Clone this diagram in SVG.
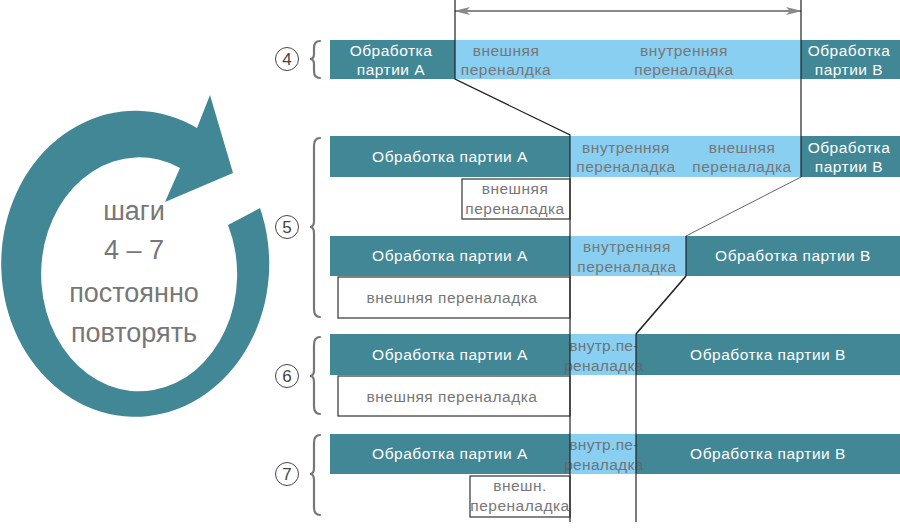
<svg xmlns="http://www.w3.org/2000/svg" width="900" height="531" viewBox="0 0 900 531">
<defs>
<style>
.dk{fill:#428795}
.lt{fill:#88cff2}
.wb{fill:#fff;stroke:#333;stroke-width:1.2}
.tw{font-family:"Liberation Sans",Arial,sans-serif;font-size:15.5px;fill:#fff;text-anchor:middle;letter-spacing:0.5px}
.tg{font-family:"Liberation Sans",Arial,sans-serif;font-size:15.5px;fill:#777;text-anchor:middle;letter-spacing:0.5px}
.tb{font-family:"Liberation Sans",Arial,sans-serif;font-size:15.5px;fill:#666;text-anchor:middle;letter-spacing:0.3px;opacity:0.85}
.big{font-family:"Liberation Sans",Arial,sans-serif;font-size:27px;fill:#777;text-anchor:middle}
.num{font-family:"Liberation Sans",Arial,sans-serif;font-size:17px;fill:#444;text-anchor:middle}
.circ{fill:#fff;stroke:#444;stroke-width:1}
.brace{fill:none;stroke:#777;stroke-width:2.2;stroke-linecap:round}
.ln{stroke:#222;stroke-width:1.2;fill:none}
.lg{stroke:#666;stroke-width:1;fill:none}
</style>
<marker id="ah" viewBox="0 0 16 8" refX="15" refY="4" markerWidth="16" markerHeight="8" markerUnits="userSpaceOnUse" orient="auto-start-reverse">
<path d="M0,0 L16,4 L0,8 L4,4 Z" fill="#888"/>
</marker>
</defs>

<g id="cycle">
<path class="dk" d="M 260 208 A 134 153 0 1 1 197 128 L 210 95 L 233 173 L 165 202 L 180 168 A 98 117 0 1 0 228 225 Z"/>
<text class="big" x="134" y="220">шаги</text>
<text class="big" x="134" y="259">4 – 7</text>
<text class="big" x="134" y="302">постоянно</text>
<text class="big" x="134" y="342">повторять</text>
</g>

<g id="step4">
<circle class="circ" cx="287" cy="59" r="11.5"/>
<text class="num" x="287" y="65">4</text>
<path class="brace" d="M 320 41 Q 314 41 314 48 L 314 54 Q 314 59 310 59 Q 314 59 314 64 L 314 71 Q 314 78 320 78"/>
<rect class="dk" x="330" y="40" width="125" height="39"/>
<rect class="lt" x="455" y="40" width="346" height="39"/>
<rect class="dk" x="801" y="40" width="99" height="39"/>
<text class="tw" x="391" y="56">Обработка</text>
<text class="tw" x="391" y="75">партии  А</text>
<text class="tg" x="506" y="56">внешняя</text>
<text class="tg" x="506" y="75">переналдка</text>
<text class="tg" x="684" y="56">внутренняя</text>
<text class="tg" x="684" y="75">переналадка</text>
<text class="tw" x="849" y="56">Обработка</text>
<text class="tw" x="849" y="75">партии В</text>
</g>

<g id="step5">
<circle class="circ" cx="287" cy="227" r="11.5"/>
<text class="num" x="287" y="233">5</text>
<path class="brace" d="M 320 138 Q 314 138 314 146 L 314 221 Q 314 227 310 227 Q 314 227 314 233 L 314 309 Q 314 317 320 317"/>
<rect class="dk" x="330" y="136" width="240" height="41"/>
<rect class="lt" x="570" y="136" width="231" height="41"/>
<rect class="dk" x="801" y="136" width="99" height="41"/>
<text class="tw" x="450" y="162">Обработка партии  А</text>
<text class="tg" x="626" y="153">внутренняя</text>
<text class="tg" x="626" y="172">переналадка</text>
<text class="tg" x="742" y="153">внешняя</text>
<text class="tg" x="742" y="172">переналадка</text>
<text class="tw" x="849" y="153">Обработка</text>
<text class="tw" x="849" y="172">партии В</text>
<rect class="wb" x="462" y="179" width="108" height="40"/>
<text class="tg" x="515" y="194">внешняя</text>
<text class="tg" x="515" y="214">переналадка</text>

<rect class="dk" x="330" y="236" width="240" height="40"/>
<rect class="lt" x="570" y="236" width="116" height="40"/>
<rect class="dk" x="686" y="236" width="214" height="40"/>
<text class="tw" x="450" y="261">Обработка партии  А</text>
<text class="tg" x="627" y="252">внутренняя</text>
<text class="tg" x="627" y="272">переналадка</text>
<text class="tw" x="793" y="261">Обработка партии В</text>
<rect class="wb" x="338" y="277" width="232" height="41"/>
<text class="tg" x="452" y="303">внешняя переналадка</text>
</g>

<g id="step6">
<circle class="circ" cx="287" cy="376" r="11.5"/>
<text class="num" x="287" y="382">6</text>
<path class="brace" d="M 320 337 Q 314 337 314 345 L 314 370 Q 314 376 310 376 Q 314 376 314 382 L 314 406 Q 314 414 320 414"/>
<rect class="dk" x="330" y="334" width="240" height="41"/>
<rect class="lt" x="570" y="334" width="66" height="41"/>
<rect class="dk" x="636" y="334" width="264" height="41"/>
<text class="tw" x="450" y="360">Обработка партии А</text>
<text class="tb" x="604" y="351">внутр.пе-</text>
<text class="tb" x="604" y="371">реналадка</text>
<text class="tw" x="768" y="360">Обработка партии В</text>
<rect class="wb" x="338" y="376" width="232" height="40"/>
<text class="tg" x="452" y="402">внешняя переналадка</text>
</g>

<g id="step7">
<circle class="circ" cx="287" cy="474" r="11.5"/>
<text class="num" x="287" y="480">7</text>
<path class="brace" d="M 320 435 Q 314 435 314 443 L 314 468 Q 314 474 310 474 Q 314 474 314 480 L 314 507 Q 314 515 320 515"/>
<rect class="dk" x="330" y="434" width="240" height="40"/>
<rect class="lt" x="570" y="434" width="66" height="40"/>
<rect class="dk" x="636" y="434" width="264" height="40"/>
<text class="tw" x="450" y="459">Обработка партии А</text>
<text class="tb" x="604" y="450">внутр.пе-</text>
<text class="tb" x="604" y="470">реналадка</text>
<text class="tw" x="768" y="459">Обработка партии В</text>
<rect class="wb" x="470" y="476" width="100" height="41"/>
<text class="tg" x="520" y="491">внешн.</text>
<text class="tg" x="520" y="511">переналадка</text>
</g>

<g id="connectors">
<line x1="455" y1="11" x2="801" y2="11" stroke="#888" stroke-width="2" marker-start="url(#ah)" marker-end="url(#ah)"/>
<path class="ln" d="M 455 0 L 455 79 L 570 135 L 570 522"/>
<path class="ln" d="M 801 0 L 801 177"/>
<path class="lg" d="M 801 177 L 686 236"/>
<path class="ln" d="M 686 236 L 686 276"/>
<path d="M 686 276 L 636 334" stroke="#222" stroke-width="1.6" fill="none"/>
<path class="ln" d="M 636 334 L 636 522"/>
</g>
</svg>
